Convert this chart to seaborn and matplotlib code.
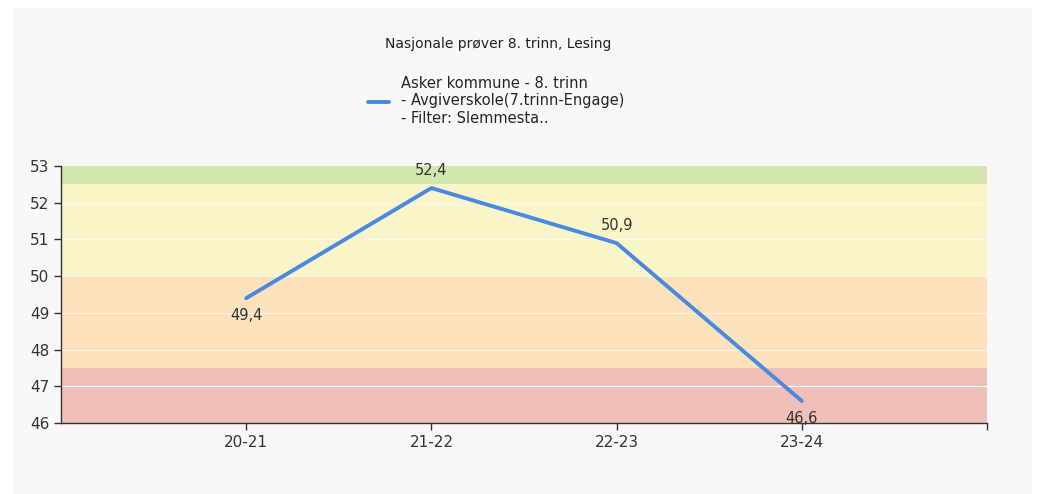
import matplotlib
matplotlib.use("Agg")
import matplotlib.pyplot as plt
import seaborn as sns
import pandas as pd
from matplotlib.patches import Rectangle
from matplotlib.lines import Line2D

# data
years = ["20-21", "21-22", "22-23", "23-24"]
scores = [49.4, 52.4, 50.9, 46.6]
label_pos = ["below", "above", "above", "below"]
band_edges = [46, 47.5, 50, 52.5, 53]
band_colors = ["#f0c0b8", "#fbe2bc", "#faf5c8", "#d2e6ad"]
y_ticks = [46, 47, 48, 49, 50, 51, 52, 53]

title = "Nasjonale prøver 8. trinn, Lesing"
legend_label = "Asker kommune - 8. trinn\n- Avgiverskole(7.trinn-Engage)\n- Filter: Slemmesta.."

sns.set_style("white")
plt.rcParams["font.family"] = ["DejaVu Sans"]

df = pd.DataFrame({"x": range(1, len(years) + 1), "score": scores})

fig = plt.figure(figsize=(10.4, 4.94), dpi=100, facecolor="white")
fig.patches.append(Rectangle((13 / 1040, 0), (1032 - 13) / 1040, (494 - 8) / 494,
                             transform=fig.transFigure, facecolor="#f8f8f8",
                             edgecolor="none", zorder=-10))
ax = fig.add_axes([61 / 1040, 71 / 494, (987 - 61) / 1040, (423 - 166) / 494])
ax.set_facecolor("none")

# colour bands
for lo, hi, c in zip(band_edges[:-1], band_edges[1:], band_colors):
    ax.axhspan(lo, hi, color=c, lw=0, zorder=0)
for t in y_ticks[1:-1]:
    ax.axhline(t, color="white", lw=0.8, alpha=0.6 if t != 47 else 1.0, zorder=1)

sns.lineplot(data=df, x="x", y="score", ax=ax, color="#4a89df", lw=2.8, zorder=3)

for xi, v, pos in zip(df["x"], scores, label_pos):
    lab = f"{v:.1f}".replace(".", ",")
    if pos == "above":
        ax.annotate(lab, (xi, v), xytext=(0, 7), textcoords="offset points",
                    ha="center", va="bottom", fontsize=10.5, color="#333333", zorder=4)
    else:
        ax.annotate(lab, (xi, v), xytext=(0, -7), textcoords="offset points",
                    ha="center", va="top", fontsize=10.5, color="#333333", zorder=4)

ax.set_xlim(0, 5)
ax.set_ylim(46, 53)
ax.set_xticks(list(df["x"]) + [5])
ax.set_xticklabels(years + [""])
ax.set_yticks(y_ticks)
ax.tick_params(axis="both", labelsize=11, colors="#333333", length=5, width=1,
               direction="out", left=True, bottom=True)
ax.set_xlabel("")
ax.set_ylabel("")
for s in ["top", "right"]:
    ax.spines[s].set_visible(False)
for s in ["left", "bottom"]:
    ax.spines[s].set_color("#333333")
    ax.spines[s].set_linewidth(1)

fig.text(498 / 1040, 1 - 44 / 494, title, ha="center", va="center", fontsize=10, color="#222222")
handle = Line2D([], [], color="#4a89df", lw=2.8)
fig.legend([handle], [legend_label], loc="center left",
           bbox_to_anchor=(355 / 1040, 1 - 101 / 494), frameon=False, fontsize=10.5,
           handlelength=1.45, handletextpad=0.8, labelspacing=0.1)

fig.savefig("out.png", dpi=100, facecolor="white")
